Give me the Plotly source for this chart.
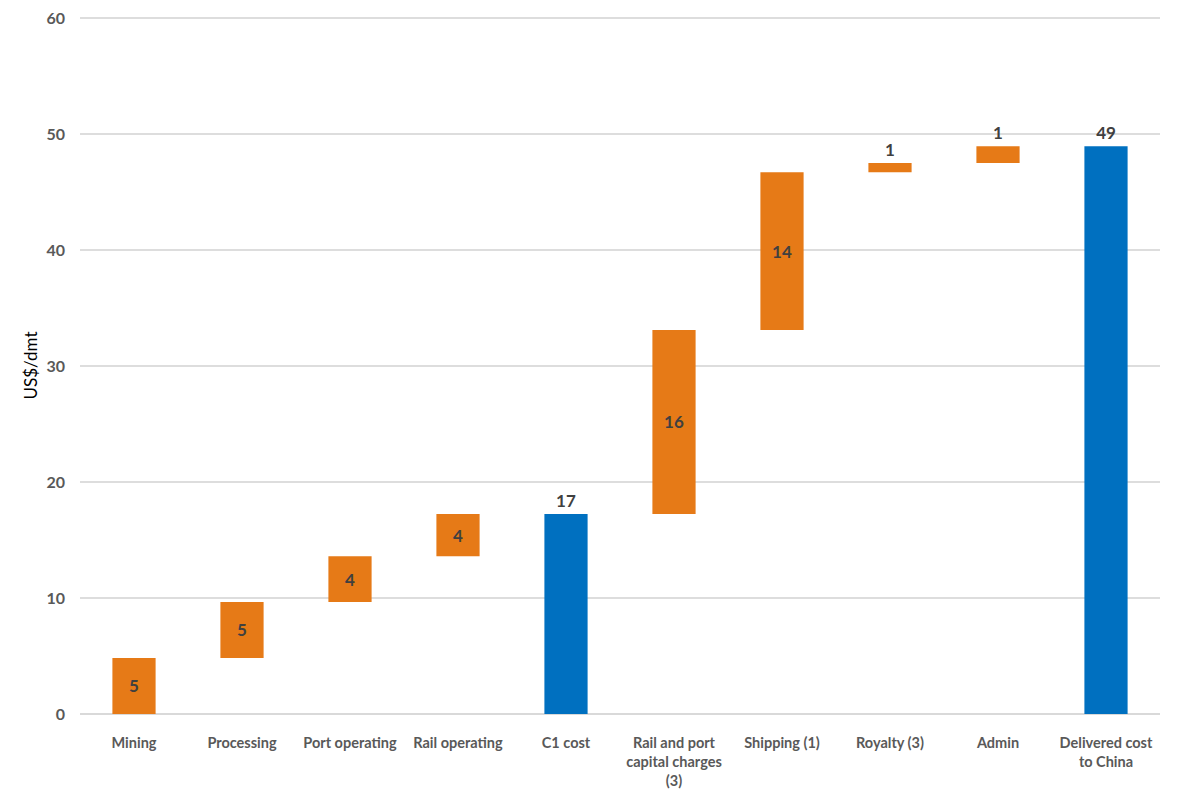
import numpy as np
import plotly.graph_objects as go

categories = ["Mining", "Processing", "Port operating", "Rail operating", "C1 cost",
              "Rail and port<br>capital charges<br>(3)", "Shipping (1)", "Royalty (3)",
              "Admin", "Delivered cost<br>to China"]
# step values (increments) and totals
increments = [4.83, 4.83, 3.95, 3.64, None, 15.86, 13.6, 0.8, 1.45, None]
is_total = [False, False, False, False, True, False, False, False, False, True]
labels = ["5", "5", "4", "4", "17", "16", "14", "1", "1", "49"]
label_pos = ["inside", "inside", "inside", "inside", "outside", "inside", "inside",
             "outside", "outside", "outside"]
y_ticks = [0, 10, 20, 30, 40, 50, 60]

ORANGE = "#E67A17"
BLUE = "#0070C0"

bases, heights, colors = [], [], []
running = 0.0
for inc, tot in zip(increments, is_total):
    if tot:
        bases.append(0)
        heights.append(running)
        colors.append(BLUE)
    else:
        bases.append(running)
        heights.append(inc)
        colors.append(ORANGE)
        running += inc

fig = go.Figure(go.Bar(
    x=categories, y=heights, base=bases,
    marker=dict(color=colors, line=dict(width=0)),
    width=0.4,
    text=labels, textposition=label_pos,
    insidetextanchor="middle",
    textfont=dict(family="Lato", size=17, color="#404040", weight="bold"),
    cliponaxis=False,
    hoverinfo="skip",
))

fig.update_layout(
    width=1181, height=797,
    margin=dict(l=80, r=21, t=17, b=83),
    plot_bgcolor="white", paper_bgcolor="white",
    showlegend=False,
    font=dict(family="Lato", color="#595959"),
    xaxis=dict(
        tickfont=dict(family="Lato", size=14.5, color="#595959", weight="bold"),
        showgrid=False, ticks="outside", ticklen=16, tickcolor="rgba(0,0,0,0)",
        showline=False, automargin=False,
    ),
    yaxis=dict(
        range=[0, 60.1], tickvals=y_ticks,
        tickfont=dict(family="Lato", size=16, color="#595959", weight="bold"),
        gridcolor="#DDDDDD", gridwidth=2,
        zeroline=True, zerolinecolor="#D9D9D9", zerolinewidth=2,
        ticks="", ticklen=0, ticklabelstandoff=14, automargin=False,
        title=dict(text="US$/dmt", font=dict(family="Lato", size=17, color="#000000"), standoff=4),
    ),
)

fig.write_html("out.html")
